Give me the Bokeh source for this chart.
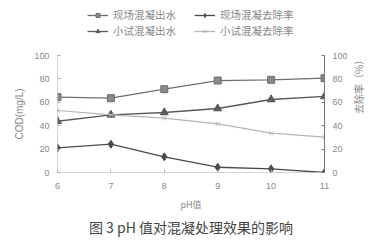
import math
from bokeh.plotting import figure
from bokeh.models import Range1d, LinearAxis, Legend, LegendItem, Title, FixedTicker
from bokeh.layouts import column
from bokeh.embed import file_html
from bokeh.resources import INLINE

ph = [6, 7, 8, 9, 10, 11]
field_out = [64.4, 63.5, 71.2, 78.6, 79.2, 80.6]
lab_out = [43.8, 49.3, 51.3, 54.7, 62.4, 65.0]
field_rem = [21.1, 24.2, 13.4, 4.5, 3.1, 0.0]
lab_rem = [53.0, 49.3, 46.4, 41.6, 33.6, 30.2]
names = ["现场混凝出水", "现场混凝去除率", "小试混凝出水", "小试混凝去除率"]
y_ticks = [0, 20, 40, 60, 80, 100]

FONT = "Liberation Sans"
CJK = "Noto Sans CJK SC"

c1, c2, c3, c4 = "#6e6e6e", "#4a4a4a", "#5a5a5a", "#b5b5b5"
styles = {
    "field_out": dict(marker="square", size=7, fill_color="#8a8a8a", line_color=c1),
    "lab_out": dict(marker="triangle", size=8, fill_color=c3, line_color=c3),
    "field_rem": dict(marker="diamond", size=8, fill_color=c2, line_color=c2),
    "lab_rem": dict(marker="x", size=6, line_color=c4),
}
lcolors = {"field_out": c1, "lab_out": c3, "field_rem": c2, "lab_rem": c4}

# ---------- main plot ----------
p = figure(width=378, height=192, output_backend="svg", toolbar_location=None,
           x_range=Range1d(6, 11), y_range=Range1d(0, 100),
           min_border_left=57, min_border_right=54, min_border_top=3, min_border_bottom=72)
p.extra_y_ranges = {"r": Range1d(0, 100)}
p.outline_line_color = None
p.xgrid.visible = False
p.ygrid.visible = False

def style(ax, dash=None):
    ax.major_label_text_font = FONT
    ax.major_label_text_font_size = "9px"
    ax.major_label_text_color = "#888888"
    ax.axis_line_color = "#aaaaaa"
    ax.major_tick_line_color = "#aaaaaa"
    ax.minor_tick_line_color = None
    ax.major_tick_out = 0
    ax.major_tick_in = 3
    if dash:
        ax.axis_line_dash = dash

xa = p.xaxis[0]
style(xa, "1 1")
xa.ticker = FixedTicker(ticks=ph)
xa.major_label_standoff = 10
xa.axis_label = "pH值"
xa.axis_label_text_font = CJK
xa.axis_label_text_font_size = "9px"
xa.axis_label_text_font_style = "normal"
xa.axis_label_text_color = "#888888"
xa.axis_label_standoff = 6

ya = p.yaxis[0]
style(ya, "1 1")
ya.ticker = FixedTicker(ticks=y_ticks)
ya.axis_label = "COD(mg/L)"
ya.axis_label_text_font = FONT
ya.axis_label_text_font_size = "10px"
ya.axis_label_text_font_style = "normal"
ya.axis_label_text_color = "#888888"
ya.major_label_standoff = 8
ya.axis_label_standoff = 6

ra = LinearAxis(y_range_name="r", ticker=FixedTicker(ticks=y_ticks))
style(ra)
ra.axis_line_color = "#777777"
ra.major_tick_line_color = "#777777"
ra.axis_label = "去除率（%）"
ra.axis_label_text_font = CJK
ra.axis_label_text_font_size = "10px"
ra.axis_label_text_font_style = "normal"
ra.axis_label_text_color = "#888888"
ra.major_label_standoff = 8
ra.axis_label_standoff = 8
try:
    ra.axis_label_orientation = math.pi / 2
except Exception:
    pass
p.add_layout(ra, "right")

series = {"field_out": (field_out, "default"), "lab_out": (lab_out, "default"),
          "field_rem": (field_rem, "r"), "lab_rem": (lab_rem, "r")}
for key, (vals, rng) in series.items():
    p.line(ph, vals, line_color=lcolors[key], line_width=1.3 if key != "lab_rem" else 1.2,
           y_range_name=rng)
    p.scatter(ph, vals, y_range_name=rng, **styles[key])

cap = Title(text="图 3 pH 值对混凝处理效果的影响", align="center",
            text_font=CJK, text_font_size="14px", text_color="#444444",
            text_font_style="normal", standoff=2)
p.add_layout(cap, "below")

# ---------- legend strip (series drawn out of view, only the legend shows) ----------
lf = figure(width=378, height=52, output_backend="svg", toolbar_location=None,
            x_axis_type=None, y_axis_type=None, x_range=Range1d(0, 1), y_range=Range1d(0, 1),
            min_border=0, min_border_left=0, min_border_right=0, min_border_top=0,
            min_border_bottom=0)
lf.outline_line_color = None
lf.xgrid.visible = False
lf.ygrid.visible = False
items = []
order = ["field_out", "lab_out", "field_rem", "lab_rem"]
label_of = {"field_out": names[0], "field_rem": names[1], "lab_out": names[2], "lab_rem": names[3]}
for key in order:
    vals = series[key][0]
    lr = lf.line(ph, vals, line_color=lcolors[key], line_width=1.3)
    sr = lf.scatter(ph, vals, **styles[key])
    items.append(LegendItem(label=label_of[key], renderers=[lr, sr]))
legend = Legend(items=items, ncols=2, location=(30, 14), label_text_font=CJK,
                label_text_font_size="10.5px", label_text_color="#888888",
                glyph_width=21, glyph_height=10, label_standoff=5, label_width=80,
                spacing=1, padding=0, margin=0, label_height=12, border_line_color=None,
                background_fill_alpha=0)
lf.add_layout(legend)

open("out.html", "w").write(file_html(column(lf, p), INLINE))
